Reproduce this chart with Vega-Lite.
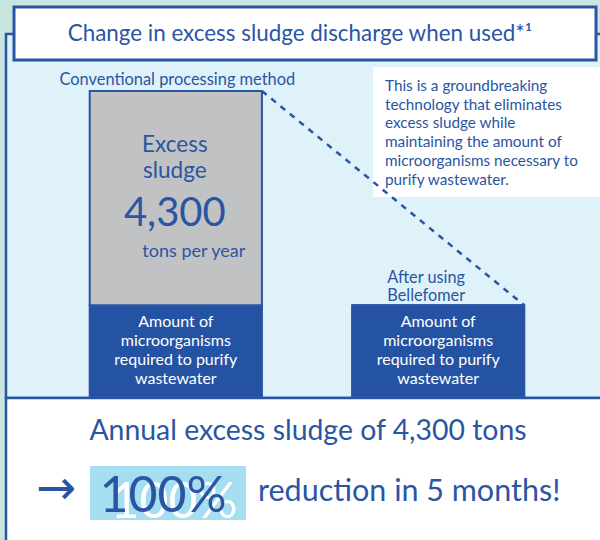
{
  "$schema": "https://vega.github.io/schema/vega-lite/v6.json",
  "width": 600,
  "height": 540,
  "autosize": {"type": "fit", "contains": "padding"},
  "padding": 0,
  "background": "#c9e5e0",
  "config": {"view": {"stroke": null}, "font": "Lato", "text": {"font": "Lato"}},
  "data": {
    "values": [
      {"method": "Conventional processing method", "component": "Amount of microorganisms required to purify wastewater", "tons": 1840},
      {"method": "Conventional processing method", "component": "Excess sludge", "tons": 4300},
      {"method": "After using Bellefomer", "component": "Amount of microorganisms required to purify wastewater", "tons": 1840},
      {"method": "After using Bellefomer", "component": "Excess sludge", "tons": 0}
    ]
  },
  "layer": [
    {
      "data": {"values": [{}]},
      "mark": {"type": "rect", "fill": "#dff2f9", "stroke": "#2a55a3", "strokeWidth": 2.5},
      "encoding": {"x": {"value": 6}, "x2": {"value": 640}, "y": {"value": 34}, "y2": {"value": 398}}
    },
    {
      "data": {"values": [{}]},
      "mark": {"type": "rect", "fill": "#ffffff", "stroke": "#2a55a3", "strokeWidth": 2.5},
      "encoding": {"x": {"value": 6}, "x2": {"value": 640}, "y": {"value": 398}, "y2": {"value": 600}}
    },
    {
      "data": {"values": [{}]},
      "mark": {"type": "rect", "fill": "#ffffff", "stroke": "#2a55a3", "strokeWidth": 3},
      "encoding": {"x": {"value": 14}, "x2": {"value": 596}, "y": {"value": 7}, "y2": {"value": 60}}
    },
    {
      "data": {"values": [{}]},
      "mark": {"type": "text", "text": "Change in excess sludge discharge when used*¹", "fontSize": 22.4, "color": "#2a55a3", "align": "center", "baseline": "alphabetic"},
      "encoding": {"x": {"value": 300}, "y": {"value": 41}}
    },
    {
      "data": {"values": [{}]},
      "mark": {"type": "rect", "fill": "#ffffff"},
      "encoding": {"x": {"value": 373}, "x2": {"value": 640}, "y": {"value": 67}, "y2": {"value": 197}}
    },
    {
      "data": {"values": [{}]},
      "mark": {"type": "text", "text": ["This is a groundbreaking", "technology that eliminates", "excess sludge while", "maintaining the amount of", "microorganisms necessary to", "purify wastewater."], "fontSize": 15.3, "lineHeight": 18.7, "color": "#2a55a3", "align": "left", "baseline": "alphabetic"},
      "encoding": {"x": {"value": 385}, "y": {"value": 91}}
    },
    {
      "mark": {"type": "bar", "stroke": "#2a55a3", "strokeWidth": 2},
      "encoding": {
        "x": {"field": "method", "type": "nominal", "sort": ["Conventional processing method", "After using Bellefomer"], "scale": {"range": [11, 603], "paddingInner": 0.3435, "paddingOuter": 0.3}, "axis": null},
        "y": {"field": "tons", "type": "quantitative", "scale": {"domain": [0, 6140], "range": [397, 91], "nice": false}, "axis": null},
        "color": {"field": "component", "type": "nominal", "scale": {"domain": ["Amount of microorganisms required to purify wastewater", "Excess sludge"], "range": ["#2553a4", "#c1c2c4"]}, "legend": null},
        "order": {"field": "component", "sort": "ascending"}
      }
    },
    {
      "mark": {"type": "line", "strokeDash": [6, 6], "strokeWidth": 2.5, "color": "#2a55a3"},
      "encoding": {
        "x": {"field": "method", "type": "nominal", "bandPosition": 1, "sort": ["Conventional processing method", "After using Bellefomer"], "scale": {"range": [11, 603], "paddingInner": 0.3435, "paddingOuter": 0.3}, "axis": null},
        "y": {"aggregate": "sum", "field": "tons", "type": "quantitative", "scale": {"domain": [0, 6140], "range": [397, 91], "nice": false}, "axis": null}
      }
    },
    {
      "transform": [{"filter": "datum.method === 'Conventional processing method'"}],
      "mark": {"type": "text", "fontSize": 16.4, "color": "#2a55a3", "align": "center", "baseline": "alphabetic", "dy": -6, "dx": 1.5},
      "encoding": {
        "x": {"field": "method", "type": "nominal", "sort": ["Conventional processing method", "After using Bellefomer"], "scale": {"range": [11, 603], "paddingInner": 0.3435, "paddingOuter": 0.3}, "axis": null},
        "y": {"aggregate": "sum", "field": "tons", "type": "quantitative", "scale": {"domain": [0, 6140], "range": [397, 91], "nice": false}, "axis": null},
        "text": {"field": "method"}
      }
    },
    {
      "transform": [{"filter": "datum.method === 'After using Bellefomer'"}],
      "mark": {"type": "text", "text": ["After using", "Bellefomer"], "fontSize": 16.3, "lineHeight": 17.5, "color": "#2a55a3", "align": "center", "baseline": "alphabetic", "dy": -22, "dx": -12},
      "encoding": {
        "x": {"field": "method", "type": "nominal", "sort": ["Conventional processing method", "After using Bellefomer"], "scale": {"range": [11, 603], "paddingInner": 0.3435, "paddingOuter": 0.3}, "axis": null},
        "y": {"aggregate": "sum", "field": "tons", "type": "quantitative", "scale": {"domain": [0, 6140], "range": [397, 91], "nice": false}, "axis": null}
      }
    },
    {
      "transform": [{"filter": "datum.method === 'Conventional processing method' && datum.component === 'Excess sludge'"}],
      "mark": {"type": "text", "text": ["Excess", "sludge"], "fontSize": 22.5, "lineHeight": 26.6, "color": "#2a55a3", "align": "center", "baseline": "alphabetic", "dy": -31, "dx": -1},
      "encoding": {
        "x": {"field": "method", "type": "nominal", "sort": ["Conventional processing method", "After using Bellefomer"], "scale": {"range": [11, 603], "paddingInner": 0.3435, "paddingOuter": 0.3}, "axis": null},
        "y": {"field": "tons", "type": "quantitative", "scale": {"domain": [0, 6140], "range": [397, 91], "nice": false}, "axis": null}
      }
    },
    {
      "transform": [{"filter": "datum.method === 'Conventional processing method' && datum.component === 'Excess sludge'"}],
      "mark": {"type": "text", "fontSize": 40, "color": "#2a55a3", "align": "center", "baseline": "alphabetic", "dy": 43, "dx": -1},
      "encoding": {
        "x": {"field": "method", "type": "nominal", "sort": ["Conventional processing method", "After using Bellefomer"], "scale": {"range": [11, 603], "paddingInner": 0.3435, "paddingOuter": 0.3}, "axis": null},
        "y": {"field": "tons", "type": "quantitative", "scale": {"domain": [0, 6140], "range": [397, 91], "nice": false}, "axis": null},
        "text": {"field": "tons", "type": "quantitative", "format": ","}
      }
    },
    {
      "transform": [{"filter": "datum.method === 'Conventional processing method' && datum.component === 'Excess sludge'"}],
      "mark": {"type": "text", "text": "tons per year", "fontSize": 18, "color": "#2a55a3", "align": "center", "baseline": "alphabetic", "dy": 74.6, "dx": 18},
      "encoding": {
        "x": {"field": "method", "type": "nominal", "sort": ["Conventional processing method", "After using Bellefomer"], "scale": {"range": [11, 603], "paddingInner": 0.3435, "paddingOuter": 0.3}, "axis": null},
        "y": {"field": "tons", "type": "quantitative", "scale": {"domain": [0, 6140], "range": [397, 91], "nice": false}, "axis": null}
      }
    },
    {
      "transform": [{"filter": "datum.component === 'Amount of microorganisms required to purify wastewater'"}],
      "mark": {"type": "text", "text": ["Amount of", "microorganisms", "required to purify", "wastewater"], "fontSize": 16, "lineHeight": 19, "color": "#ffffff", "align": "center", "baseline": "alphabetic", "dy": 22},
      "encoding": {
        "x": {"field": "method", "type": "nominal", "sort": ["Conventional processing method", "After using Bellefomer"], "scale": {"range": [11, 603], "paddingInner": 0.3435, "paddingOuter": 0.3}, "axis": null},
        "y": {"field": "tons", "type": "quantitative", "scale": {"domain": [0, 6140], "range": [397, 91], "nice": false}, "axis": null}
      }
    },
    {
      "data": {"values": [{}]},
      "mark": {"type": "text", "text": "Annual excess sludge of 4,300 tons", "fontSize": 28.4, "color": "#2a55a3", "align": "center", "baseline": "alphabetic"},
      "encoding": {"x": {"value": 308}, "y": {"value": 440}}
    },
    {
      "data": {"values": [{}]},
      "mark": {"type": "text", "text": "→", "font": "DejaVu Sans", "fontSize": 48, "color": "#2a55a3", "align": "center", "baseline": "middle"},
      "encoding": {"x": {"value": 56}, "y": {"value": 490}}
    },
    {
      "data": {"values": [{}]},
      "mark": {"type": "rect", "fill": "#a5def0"},
      "encoding": {"x": {"value": 90}, "x2": {"value": 246}, "y": {"value": 466}, "y2": {"value": 520}}
    },
    {
      "data": {"values": [{}]},
      "mark": {"type": "text", "text": "100%", "fontSize": 50, "color": "#ffffff", "align": "center", "baseline": "alphabetic"},
      "encoding": {"x": {"value": 174}, "y": {"value": 518}}
    },
    {
      "data": {"values": [{}]},
      "mark": {"type": "text", "text": "100%", "fontSize": 50, "color": "#2a55a3", "align": "center", "baseline": "alphabetic"},
      "encoding": {"x": {"value": 163}, "y": {"value": 512}}
    },
    {
      "data": {"values": [{}]},
      "mark": {"type": "text", "text": "reduction in 5 months!", "fontSize": 30.5, "color": "#2a55a3", "align": "left", "baseline": "alphabetic"},
      "encoding": {"x": {"value": 258}, "y": {"value": 501}}
    }
  ]
}
